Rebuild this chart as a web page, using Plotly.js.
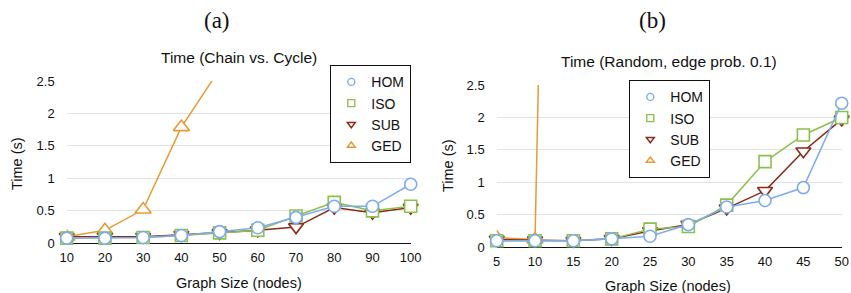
<!DOCTYPE html>
<html>
<head>
<meta charset="utf-8">
<script src="https://cdn.plot.ly/plotly-3.0.1.min.js"></script>
<style>html,body{margin:0;padding:0;background:#fff;}#chart{width:851px;height:293px;}</style>
</head>
<body>
<div id="chart"></div>
<script>
// Panel (a): Chain vs. Cycle
const sizesA = [10, 20, 30, 40, 50, 60, 70, 80, 90, 100];
const homA = [0.08, 0.08, 0.09, 0.12, 0.18, 0.24, 0.40, 0.57, 0.57, 0.91];
const isoA = [0.08, 0.08, 0.09, 0.12, 0.16, 0.20, 0.42, 0.63, 0.50, 0.57];
const subA = [0.10, 0.10, 0.10, 0.13, 0.16, 0.20, 0.25, 0.55, 0.47, 0.55];
const gedA = [0.10, 0.20, 0.52, 1.79, 2.68, null, null, null, null, null];

// Panel (b): Random, edge prob. 0.1
const sizesB = [5, 10, 15, 20, 25, 30, 35, 40, 45, 50];
const homB = [0.10, 0.10, 0.10, 0.13, 0.17, 0.35, 0.62, 0.72, 0.92, 2.22];
const isoB = [0.10, 0.10, 0.10, 0.13, 0.28, 0.32, 0.65, 1.32, 1.73, 2.00];
const subB = [0.12, 0.11, 0.10, 0.13, 0.25, 0.35, 0.60, 0.87, 1.48, 1.97];
const gedB = [0.15, 0.12, 28, null, null, null, null, null, null, null];

const yTicks = [0, 0.5, 1, 1.5, 2, 2.5];
const yTickText = ['0', '0.5', '1', '1.5', '2', '2.5'];

const seriesNames = ['HOM', 'ISO', 'SUB', 'GED'];
const colors = {HOM: '#7eabef', ISO: '#8cc14c', SUB: '#8b2a17', GED: '#e99a34'};
const symbols = {HOM: 'circle', ISO: 'square', SUB: 'triangle-down', GED: 'triangle-up'};
const sizes = {HOM: 12, ISO: 12, SUB: 13, GED: 14};

function series(name, x, y, xa, ya, clip) {
  return {
    type: 'scatter', mode: 'lines+markers', name: name, x: x, y: y,
    xaxis: xa, yaxis: ya, showlegend: false, cliponaxis: clip,
    line: {color: colors[name], width: 1.5},
    marker: {symbol: symbols[name], size: sizes[name], color: '#ffffff',
             line: {color: colors[name], width: 1.6}},
    hoverinfo: 'x+y+name'
  };
}
function legendEntry(name, legendId) {
  return {
    type: 'scatter', mode: 'markers', name: name, x: [null], y: [null],
    xaxis: legendId === 'legend' ? 'x' : 'x2', yaxis: legendId === 'legend' ? 'y' : 'y2',
    legend: legendId, showlegend: true,
    marker: {symbol: symbols[name], size: 7, color: '#ffffff',
             line: {color: colors[name], width: 1.4}}
  };
}

const dataA = {HOM: homA, ISO: isoA, SUB: subA, GED: gedA};
const dataB = {HOM: homB, ISO: isoB, SUB: subB, GED: gedB};

const traces = [];
['GED', 'SUB', 'ISO', 'HOM'].forEach(n => traces.push(series(n, sizesA, dataA[n], 'x', 'y', n === 'GED')));
['GED', 'SUB', 'ISO', 'HOM'].forEach(n => traces.push(series(n, sizesB, dataB[n], 'x2', 'y2', n === 'GED')));
seriesNames.forEach(n => traces.push(legendEntry(n, 'legend')));
seriesNames.forEach(n => traces.push(legendEntry(n, 'legend2')));

const W = 851, H = 293;
const px = v => v / W;
const py = v => 1 - v / H;
const font = 'Liberation Sans, Arial, Helvetica, sans-serif';

function xAxis(range, ticks, domain, anchor) {
  return {
    domain: domain, anchor: anchor, range: range, tickvals: ticks,
    ticktext: ticks.map(String), showgrid: false, zeroline: false,
    showline: false, ticks: '', ticklabelstandoff: 5,
    tickfont: {family: font, size: 13, color: '#111'}, fixedrange: true
  };
}
function yAxis(domain, anchor) {
  return {
    domain: domain, anchor: anchor, range: [0, 2.5], tickvals: yTicks,
    ticktext: yTickText, showgrid: true, gridcolor: '#e3e3e3', gridwidth: 1,
    zeroline: true, zerolinecolor: '#111', zerolinewidth: 1.5,
    showline: false, ticks: '', ticklabelstandoff: 11,
    tickfont: {family: font, size: 13, color: '#111'}, fixedrange: true
  };
}

const layout = {
  width: W, height: H,
  margin: {l: 0, r: 0, t: 0, b: 0},
  paper_bgcolor: '#fff', plot_bgcolor: '#fff',
  font: {family: font, color: '#111'},
  xaxis: xAxis([10, 100], sizesA, [px(66.7), px(410.7)], 'y'),
  yaxis: yAxis([py(243.3), py(81)], 'x'),
  xaxis2: xAxis([5, 50], sizesB, [px(496.7), px(841.7)], 'y2'),
  yaxis2: yAxis([py(247.3), py(85)], 'x2'),
  legend: {
    x: px(330), y: py(65), xanchor: 'left', yanchor: 'top',
    bgcolor: '#fff', bordercolor: '#111', borderwidth: 1.3,
    font: {family: font, size: 14, color: '#111'}, itemwidth: 30
  },
  legend2: {
    x: px(629), y: py(80), xanchor: 'left', yanchor: 'top',
    bgcolor: '#fff', bordercolor: '#111', borderwidth: 1.3,
    font: {family: font, size: 14, color: '#111'}, itemwidth: 30
  },
  annotations: [
    {text: '(a)', x: px(217), y: py(20), xref: 'paper', yref: 'paper', showarrow: false,
     xanchor: 'center', yanchor: 'middle', font: {family: 'Liberation Serif, DejaVu Serif, serif', size: 23, color: '#111'}},
    {text: '(b)', x: px(652), y: py(20), xref: 'paper', yref: 'paper', showarrow: false,
     xanchor: 'center', yanchor: 'middle', font: {family: 'Liberation Serif, DejaVu Serif, serif', size: 23, color: '#111'}},
    {text: 'Time (Chain vs. Cycle)', x: px(238.5), y: py(57), xref: 'paper', yref: 'paper', showarrow: false,
     xanchor: 'center', yanchor: 'middle', font: {family: font, size: 15.5, color: '#111'}},
    {text: 'Time (Random, edge prob. 0.1)', x: px(669), y: py(61), xref: 'paper', yref: 'paper', showarrow: false,
     xanchor: 'center', yanchor: 'middle', font: {family: font, size: 15.5, color: '#111'}},
    {text: 'Graph Size (nodes)', x: px(238.5), y: py(283), xref: 'paper', yref: 'paper', showarrow: false,
     xanchor: 'center', yanchor: 'middle', font: {family: font, size: 14.5, color: '#111'}},
    {text: 'Graph Size (nodes)', x: px(668), y: py(286), xref: 'paper', yref: 'paper', showarrow: false,
     xanchor: 'center', yanchor: 'middle', font: {family: font, size: 14.5, color: '#111'}},
    {text: 'Time (s)', x: px(17), y: py(164), xref: 'paper', yref: 'paper', showarrow: false, textangle: -90,
     xanchor: 'center', yanchor: 'middle', font: {family: font, size: 14.5, color: '#111'}},
    {text: 'Time (s)', x: px(448), y: py(166), xref: 'paper', yref: 'paper', showarrow: false, textangle: -90,
     xanchor: 'center', yanchor: 'middle', font: {family: font, size: 14.5, color: '#111'}}
  ]
};

Plotly.newPlot('chart', traces, layout, {displayModeBar: false, staticPlot: true});
</script>
</body>
</html>
